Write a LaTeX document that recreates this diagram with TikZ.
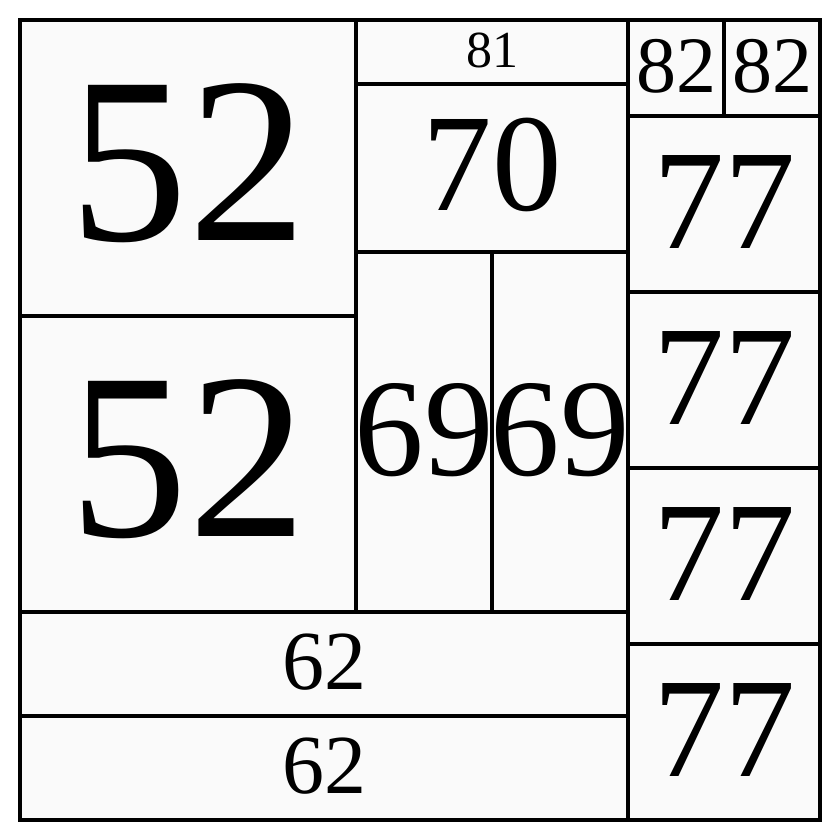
\documentclass[tikz,border=0pt]{standalone}
\usepackage{fontspec}
\setmainfont{Liberation Serif}
\definecolor{cellfill}{HTML}{FAFAFA}

\begin{document}
\begin{tikzpicture}[x=1pt,y=-1pt,
    cellbox/.style={draw=black,line width=3.5pt,fill=cellfill},
    celltext/.style={inner sep=0pt,text=black}]

    \useasboundingbox (0,0) rectangle (840,840);

    % these are the cells
    \draw[cellbox] (20,20) rectangle (356,316);
    \draw[cellbox] (20,316) rectangle (356,612);
    \draw[cellbox] (356,20) rectangle (628,84);
    \draw[cellbox] (356,84) rectangle (628,252);
    \draw[cellbox] (356,252) rectangle (492,612);
    \draw[cellbox] (492,252) rectangle (628,612);
    \draw[cellbox] (20,612) rectangle (628,716);
    \draw[cellbox] (20,716) rectangle (628,820);
    \draw[cellbox] (628,20) rectangle (724,116);
    \draw[cellbox] (724,20) rectangle (820,116);
    \draw[cellbox] (628,116) rectangle (820,292);
    \draw[cellbox] (628,292) rectangle (820,468);
    \draw[cellbox] (628,468) rectangle (820,644);
    \draw[cellbox] (628,644) rectangle (820,820);

    % these are the labels
    \node[celltext,font=\fontsize{237}{237}\selectfont] (c52a) at (188,163) {52};
    \node[celltext,font=\fontsize{237}{237}\selectfont] (c52b) at (188,459) {52};
    \node[celltext,font=\fontsize{52}{52}\selectfont] (c81) at (492,50) {81};
    \node[celltext,font=\fontsize{139}{139}\selectfont] (c70) at (492,165) {70};
    \node[celltext,font=\fontsize{139}{139}\selectfont] (c69a) at (424,430) {69};
    \node[celltext,font=\fontsize{139}{139}\selectfont] (c69b) at (560,430) {69};
    \node[celltext,font=\fontsize{84}{84}\selectfont] (c62a) at (324,662) {62};
    \node[celltext,font=\fontsize{84}{84}\selectfont] (c62b) at (324,766) {62};
    \node[celltext,font=\fontsize{80}{80}\selectfont] (c82a) at (676,66) {82};
    \node[celltext,font=\fontsize{80}{80}\selectfont] (c82b) at (772,66) {82};
    \node[celltext,font=\fontsize{142}{142}\selectfont] (c77a) at (724,202) {77};
    \node[celltext,font=\fontsize{142}{142}\selectfont] (c77b) at (724,378) {77};
    \node[celltext,font=\fontsize{142}{142}\selectfont] (c77c) at (724,554) {77};
    \node[celltext,font=\fontsize{142}{142}\selectfont] (c77d) at (724,730) {77};

\end{tikzpicture}
\end{document}
